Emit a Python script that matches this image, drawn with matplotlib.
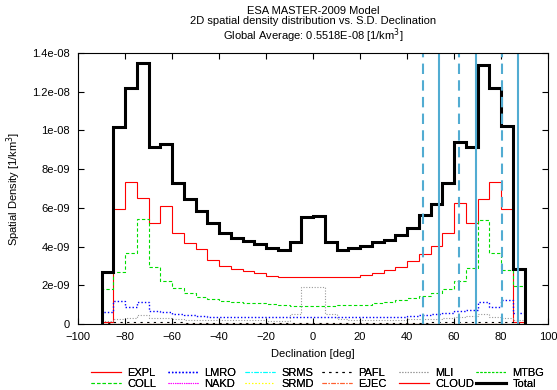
import numpy as np
import matplotlib
matplotlib.use('Agg')
import matplotlib.pyplot as plt

plt.rcParams['font.family'] = ['Liberation Sans', 'DejaVu Sans']
plt.rcParams['font.size'] = 8

# bin edges of declination [deg], 5 deg wide
edges = np.arange(-90, 95, 5)

# spatial density per bin, in units of 1e-9 / km^3
total = [2.70, 10.16, 12.20, 13.50, 9.13, 9.30, 7.27, 6.45, 5.85, 5.20, 4.72, 4.46,
         4.30, 4.12, 3.94, 3.82, 4.22, 5.55, 5.58, 4.22, 3.82, 3.91, 4.03, 4.22,
         4.34, 4.60, 4.97, 5.63, 6.20, 7.27, 9.38, 9.16, 13.40, 12.20, 10.23, 2.84]
expl = [0.08, 5.94, 7.35, 6.49, 5.20, 6.11, 4.68, 4.17, 3.87, 3.31, 3.00, 2.83,
        2.75, 2.62, 2.48, 2.41, 2.41, 2.41, 2.41, 2.41, 2.41, 2.43, 2.53, 2.62,
        2.79, 2.93, 3.25, 3.60, 4.03, 4.68, 6.23, 5.23, 6.46, 7.35, 5.92, 0.08]
coll = [1.81, 2.70, 3.65, 5.42, 2.93, 2.24, 1.84, 1.59, 1.41, 1.29, 1.20, 1.15,
        1.10, 1.07, 1.02, 0.98, 0.93, 0.93, 0.93, 0.93, 0.98, 0.98, 1.00, 1.07,
        1.15, 1.24, 1.36, 1.45, 1.59, 1.81, 2.24, 2.88, 5.37, 3.68, 2.79, 1.98]
lmro = [0.60, 1.20, 0.89, 1.14, 0.69, 0.64, 0.52, 0.47, 0.41, 0.38, 0.37, 0.36,
        0.36, 0.36, 0.34, 0.34, 0.34, 0.34, 0.36, 0.36, 0.36, 0.36, 0.36, 0.36,
        0.36, 0.36, 0.41, 0.47, 0.52, 0.55, 0.67, 0.72, 1.12, 0.86, 1.24, 0.58]
mli = [0.17, 0.27, 0.30, 0.45, 0.33, 0.30, 0.25, 0.22, 0.20, 0.20, 0.20, 0.20,
       0.20, 0.19, 0.17, 0.17, 0.50, 1.93, 1.93, 0.50, 0.28, 0.22, 0.20, 0.20,
       0.20, 0.22, 0.24, 0.26, 0.28, 0.30, 0.35, 0.40, 0.50, 0.35, 0.30, 0.20]
pafl = [0.05, 0.08, 0.10, 0.12, 0.10, 0.09, 0.08, 0.07, 0.06, 0.06, 0.06, 0.06,
        0.06, 0.06, 0.06, 0.06, 0.06, 0.06, 0.06, 0.06, 0.06, 0.06, 0.06, 0.06,
        0.06, 0.06, 0.06, 0.07, 0.08, 0.09, 0.10, 0.10, 0.12, 0.10, 0.08, 0.05]
zeros = [0.0] * 36

# reference inclinations [deg]
incl_dashed = [47.0, 62.3, 80.6]
incl_solid = [53.7, 69.2, 87.4]

yticks = [0, 2e-9, 4e-9, 6e-9, 8e-9, 1e-8, 1.2e-8, 1.4e-8]
ytick_labels = ['0', '2e-09', '4e-09', '6e-09', '8e-09', '1e-08', '1.2e-08', '1.4e-08']

W, H = 557, 390
fig = plt.figure(figsize=(W / 100, H / 100), dpi=100)
ax = fig.add_axes([78 / W, 1 - 324 / H, 470 / W, 271 / H])

def s(v):
    return np.array(v) * 1e-9

series = [
    ('EXPL', expl, dict(color='#ff0000', lw=0.8, ls='-')),
    ('COLL', coll, dict(color='#00dd00', lw=0.8, ls=(0, (3, 2)))),
    ('LMRO', lmro, dict(color='#0000ff', lw=1.0, ls=(0, (1, 1.5)))),
    ('NAKD', zeros, dict(color='#ff00ff', lw=0.8, ls=(0, (1, 1)))),
    ('SRMS', zeros, dict(color='#00ffff', lw=0.8, ls=(0, (4, 1.5, 1, 1.5)))),
    ('SRMD', zeros, dict(color='#ffff00', lw=0.8, ls=(0, (1, 2)))),
    ('PAFL', pafl, dict(color='#000000', lw=0.8, ls=(0, (2, 4)))),
    ('EJEC', zeros, dict(color='#ff6030', lw=0.8, ls=(0, (4, 1.5, 1, 1.5)))),
    ('MLI', mli, dict(color='#999999', lw=0.8, ls=(0, (1, 1.5)))),
    ('CLOUD', zeros, dict(color='#ff0000', lw=0.8, ls='-')),
    ('MTBG', zeros, dict(color='#00dd00', lw=0.8, ls=(0, (2, 1.5)))),
    ('Total', total, dict(color='#000000', lw=2.2, ls='-')),
]

handles = []
for name, vals, st in series:
    h = ax.stairs(s(vals), edges, baseline=0, label=name, **st)
    handles.append(h)

for x in incl_dashed:
    ax.axvline(x, color='#52acd2', lw=1.5, ls=(0, (5, 3)))
for x in incl_solid:
    ax.axvline(x, color='#52acd2', lw=1.5, ls='-')

ax.set_xlim(-100, 100)
ax.set_ylim(0, 1.4e-8)
ax.set_xticks(np.arange(-100, 101, 20))
ax.set_yticks(yticks)
ax.set_yticklabels(ytick_labels)
ax.tick_params(direction='in', length=4, width=0.8, top=True, right=True)
ax.tick_params(axis='x', pad=6)
ax.tick_params(axis='y', pad=6)
for sp in ax.spines.values():
    sp.set_linewidth(0.8)

ax.set_xlabel('Declination [deg]', labelpad=5)
ax.set_ylabel('Spatial Density [1/km$^3$]', labelpad=6)
ax.set_title('ESA MASTER-2009 Model\n2D spatial density distribution vs. S.D. Declination\n'
             'Global Average: 0.5518E-08 [1/km$^3$]', fontsize=8, linespacing=1.0, pad=10)

# legend: six fixed-width columns of two entries each
col_x = [83, 160, 237, 314, 391, 468]
for i, cx in enumerate(col_x):
    leg = fig.legend(handles=handles[2 * i:2 * i + 2], loc='upper left',
                     bbox_to_anchor=(cx / W, 1 - 360 / H), frameon=False,
                     handlelength=2.7, handletextpad=0.6, labelspacing=0.08,
                     borderpad=0.2, fontsize=8)
    fig.add_artist(leg)

fig.savefig('out.png', dpi=100)
